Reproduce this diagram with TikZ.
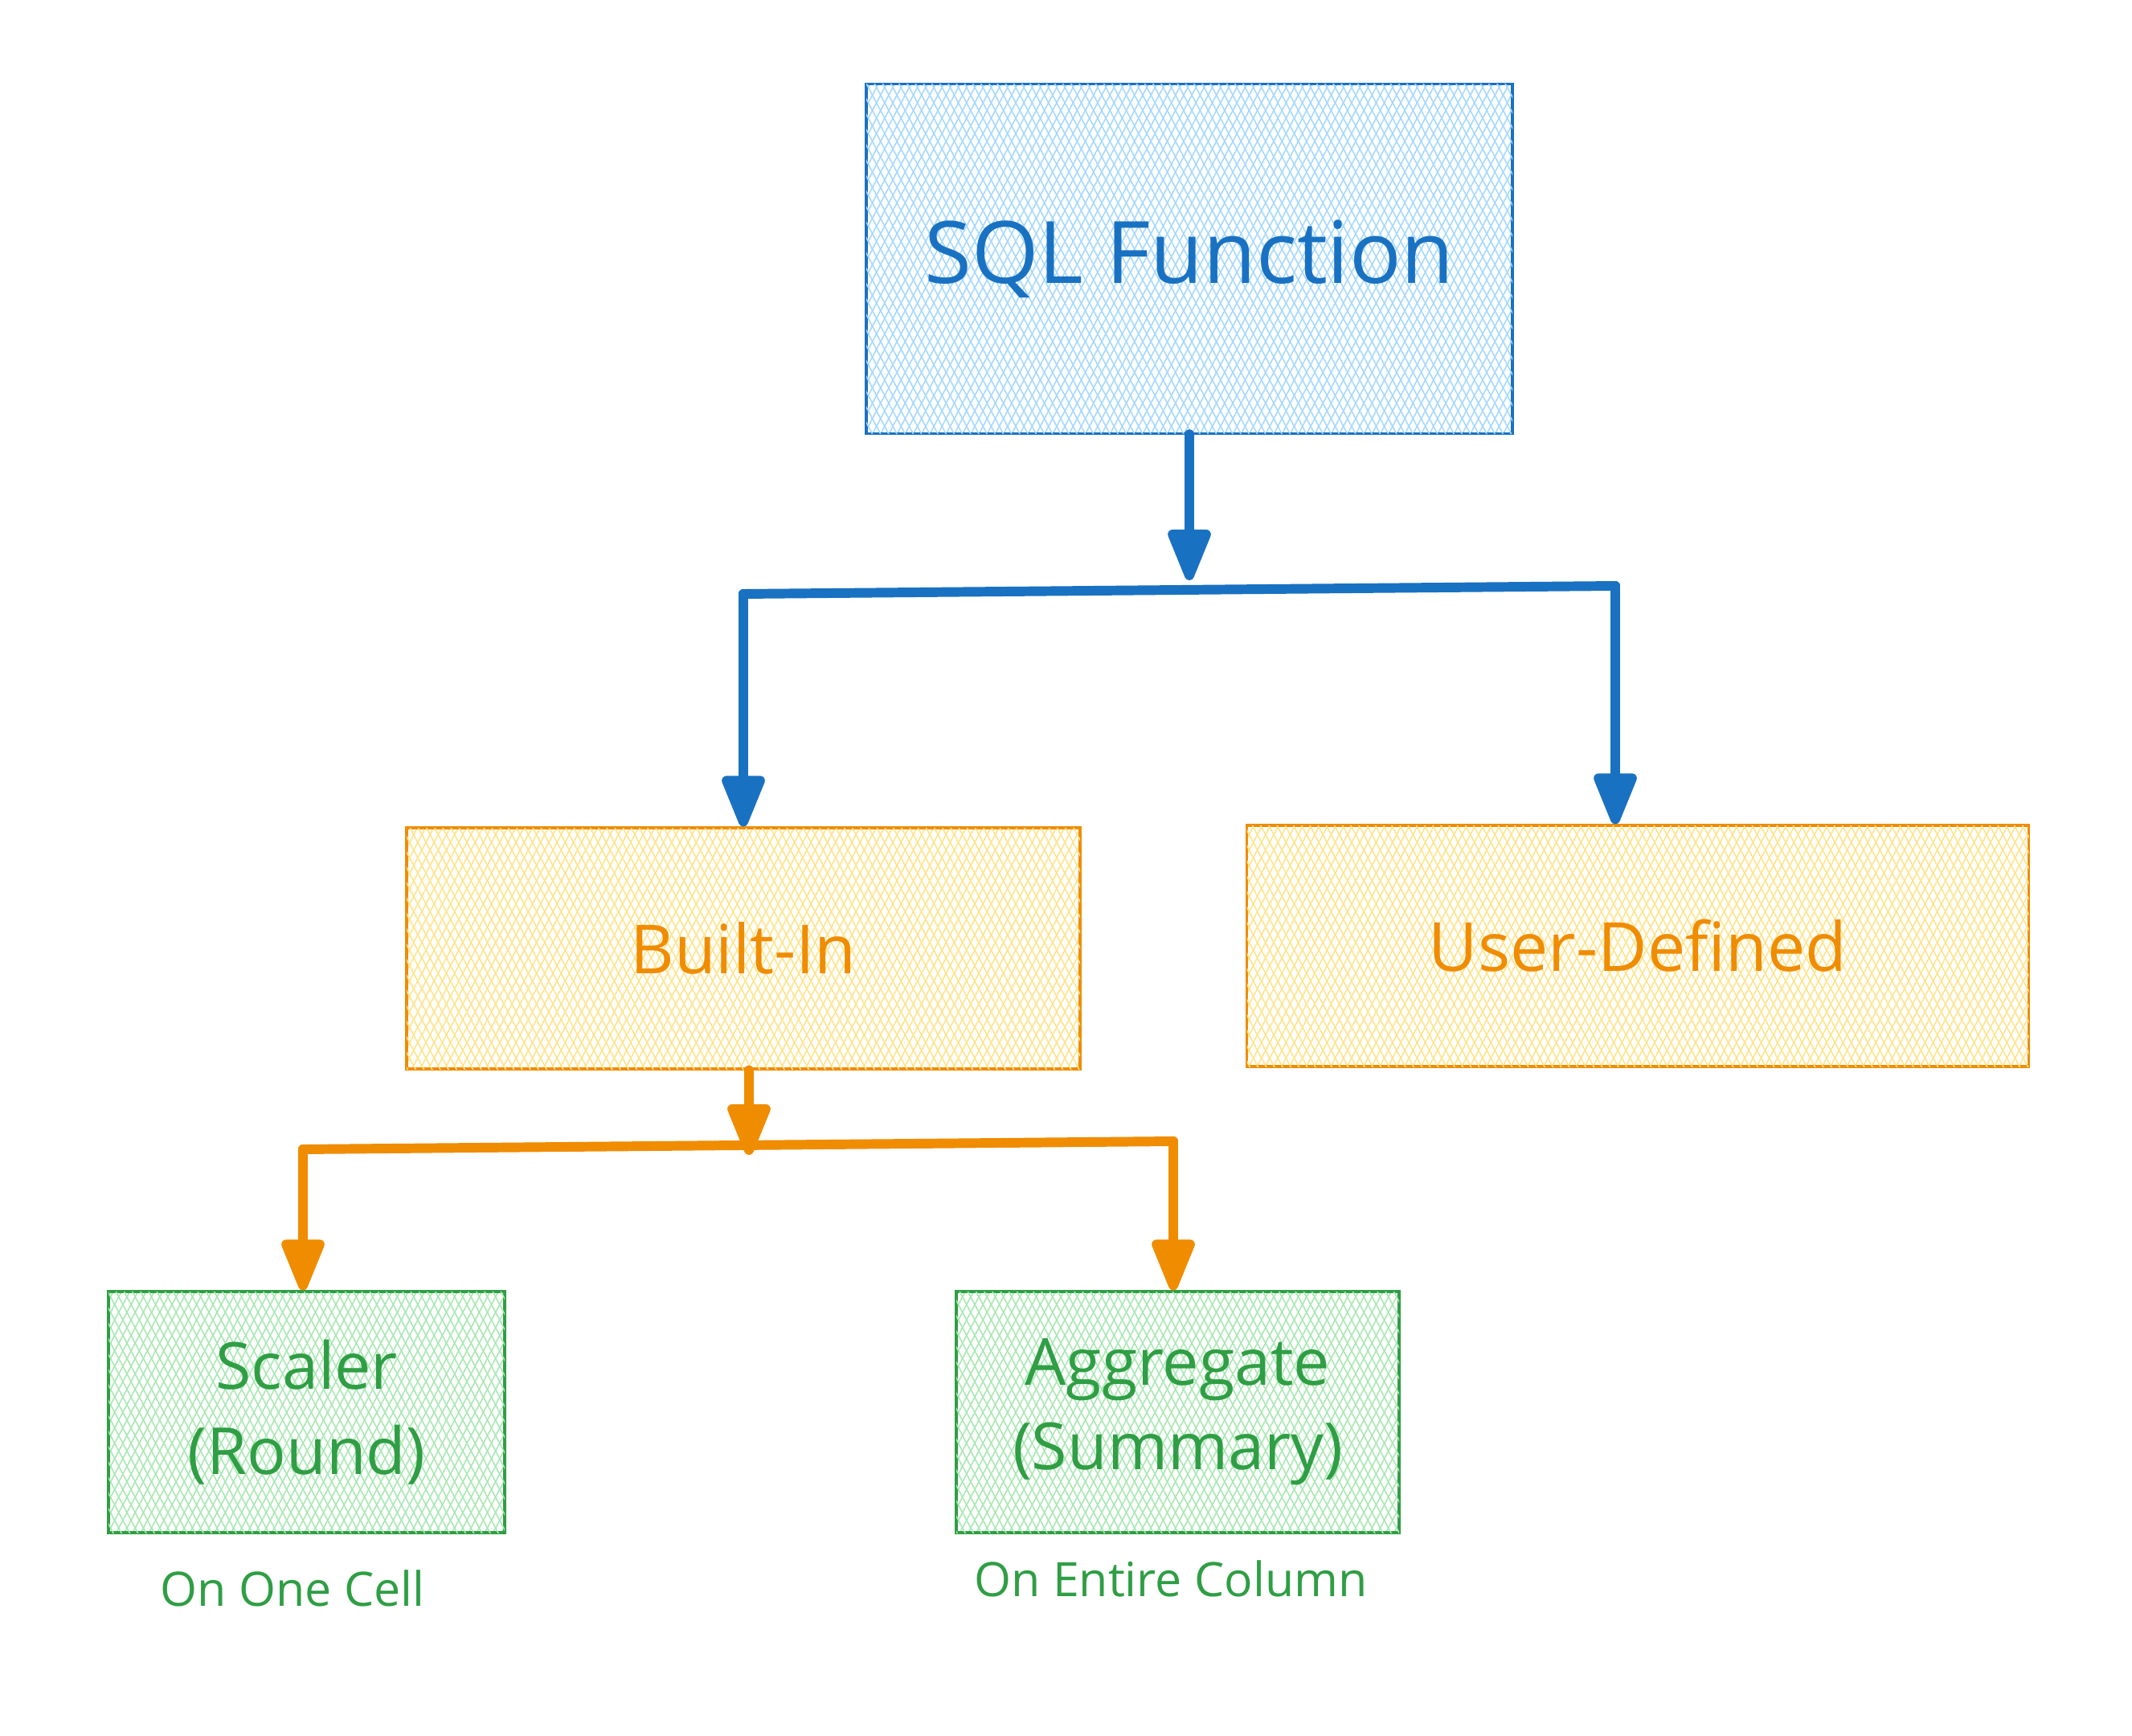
\documentclass[tikz,border=0pt]{standalone}
\usepackage{fontspec}
\setmainfont{Open Sans}
\usetikzlibrary{arrows.meta, patterns.meta}
\definecolor{sqlblue}{HTML}{1971C2}
\definecolor{hatchblue}{HTML}{A5D8FF}
\definecolor{sqlorange}{HTML}{F08C00}
\definecolor{hatchyellow}{HTML}{FFE38A}
\definecolor{sqlgreen}{HTML}{2F9E44}
\definecolor{hatchgreen}{HTML}{A8E8B2}

\begin{document}
\begin{tikzpicture}[
  box/.style={draw, line width=0.9pt, inner sep=0pt, align=center},
  hatched/.style={pattern={Lines[angle=62, distance=0.9mm, line width=0.45pt]}, pattern color=#1,
    postaction={pattern={Lines[angle=118, distance=0.9mm, line width=0.45pt]}, pattern color=#1}},
  bluebox/.style={box, sqlblue, text=sqlblue, hatched=hatchblue},
  orangebox/.style={box, sqlorange, text=sqlorange, hatched=hatchyellow},
  greenbox/.style={box, sqlgreen, text=sqlgreen, hatched=hatchgreen},
  link/.style={line width=3.4pt, line cap=round, line join=round},
  arrow/.style={link, -{Triangle[length=7.4mm, width=5.6mm, round]}}
]
  \useasboundingbox (0,0) rectangle (26.53,-21.6);

  % top level
  \node[bluebox, minimum width=8.04cm, minimum height=4.35cm, font=\fontsize{30.5}{36}\selectfont]
        (sql) at (14.80,-3.22) {SQL Function};

  % second level
  \node[orangebox, minimum width=8.38cm, minimum height=3.0cm, font=\fontsize{24}{28}\selectfont]
        (builtin) at (9.25,-11.80) {Built-In};
  \node[orangebox, minimum width=9.73cm, minimum height=3.0cm, font=\fontsize{24}{28}\selectfont]
        (userdef) at (20.38,-11.77) {User-Defined};

  % third level
  \node[greenbox, minimum width=4.93cm, minimum height=3.0cm, font=\fontsize{23}{30}\selectfont]
        (scaler) at (3.815,-17.57) {Scaler\\(Round)};
  \node[greenbox, minimum width=5.51cm, minimum height=3.0cm, font=\fontsize{23}{30}\selectfont]
        (aggr) at (14.655,-17.57) {Aggregate\\(Summary)};

  \node[text=sqlgreen, font=\fontsize{16.8}{20}\selectfont] (onecell) at (3.64,-19.76) {On One Cell};
  \node[text=sqlgreen, font=\fontsize{16.8}{20}\selectfont] (entirecol) at (14.57,-19.64) {On Entire Column};

  % blue connectors
  \coordinate (sqljoin) at (14.80,-7.22);
  \coordinate (bluel) at (9.25,-7.39);
  \coordinate (bluer) at (20.10,-7.29);
  \draw[arrow, sqlblue] (sql.south) -- (sqljoin);
  \draw[link, sqlblue] (bluel) -- (bluer);
  \draw[arrow, sqlblue] (bluel) -- (builtin.north);
  \draw[arrow, sqlblue] (bluer) -- (bluer |- userdef.north);

  % orange connectors
  \coordinate (orangejoin) at (9.32,-14.37);
  \coordinate (orangel) at (3.77,-14.30);
  \coordinate (oranger) at (14.60,-14.20);
  \draw[arrow, sqlorange] (builtin.south -| orangejoin) -- (orangejoin);
  \draw[link, sqlorange] (orangel) -- (oranger);
  \draw[arrow, sqlorange] (orangel) -- (orangel |- scaler.north);
  \draw[arrow, sqlorange] (oranger) -- (oranger |- aggr.north);
\end{tikzpicture}
\end{document}
